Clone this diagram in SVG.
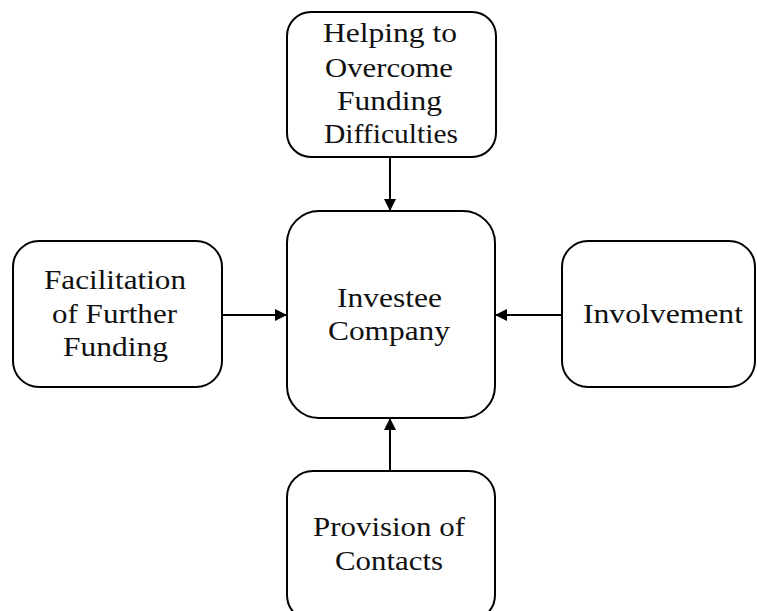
<svg xmlns="http://www.w3.org/2000/svg" width="757" height="611" viewBox="0 0 757 611">
<style>
.box{fill:#fff;stroke:#000;stroke-width:2}
.t{font-family:"Liberation Serif","Times New Roman",serif;font-size:27px;fill:#111;text-anchor:middle}
.c{stroke:#000;stroke-width:2;fill:none;marker-end:url(#ah)}
</style>
<defs>
<marker id="ah" viewBox="0 0 12 12" refX="12" refY="6" markerWidth="12" markerHeight="12" markerUnits="userSpaceOnUse" orient="auto">
<path d="M0,0 L12,6 L0,12 Z" fill="#000"/>
</marker>
</defs>
<g id="connectors">
<line class="c" x1="390" y1="157" x2="390" y2="211"/>
<line class="c" x1="222" y1="315" x2="287" y2="315"/>
<line class="c" x1="562" y1="315" x2="495" y2="315"/>
<line class="c" x1="390" y1="471" x2="390" y2="418"/>
</g>
<g id="funding-difficulties">
<rect class="box" x="287" y="12" width="209" height="145" rx="24"/>
<text class="t" x="390" y="42" textLength="134" lengthAdjust="spacingAndGlyphs">Helping to</text>
<text class="t" x="389" y="77" textLength="128" lengthAdjust="spacingAndGlyphs">Overcome</text>
<text class="t" x="389.5" y="110" textLength="105" lengthAdjust="spacingAndGlyphs">Funding</text>
<text class="t" x="391" y="143" textLength="134" lengthAdjust="spacingAndGlyphs">Difficulties</text>
</g>
<g id="investee">
<rect class="box" x="287" y="211" width="208" height="207" rx="32"/>
<text class="t" x="389.5" y="307" textLength="105" lengthAdjust="spacingAndGlyphs">Investee</text>
<text class="t" x="389" y="340" textLength="122" lengthAdjust="spacingAndGlyphs">Company</text>
</g>
<g id="further-funding">
<rect class="box" x="13" y="241" width="209" height="146" rx="26"/>
<text class="t" x="115" y="289" textLength="142" lengthAdjust="spacingAndGlyphs">Facilitation</text>
<text class="t" x="114.5" y="323" textLength="125" lengthAdjust="spacingAndGlyphs">of Further</text>
<text class="t" x="115.5" y="356" textLength="105" lengthAdjust="spacingAndGlyphs">Funding</text>
</g>
<g id="involvement">
<rect class="box" x="562" y="241" width="193" height="146" rx="26"/>
<text class="t" x="663" y="323" textLength="160" lengthAdjust="spacingAndGlyphs">Involvement</text>
</g>
<g id="contacts">
<rect class="box" x="287" y="471" width="208" height="150" rx="26"/>
<text class="t" x="389" y="536" textLength="152" lengthAdjust="spacingAndGlyphs">Provision of</text>
<text class="t" x="389" y="570" textLength="108" lengthAdjust="spacingAndGlyphs">Contacts</text>
</g>
</svg>
